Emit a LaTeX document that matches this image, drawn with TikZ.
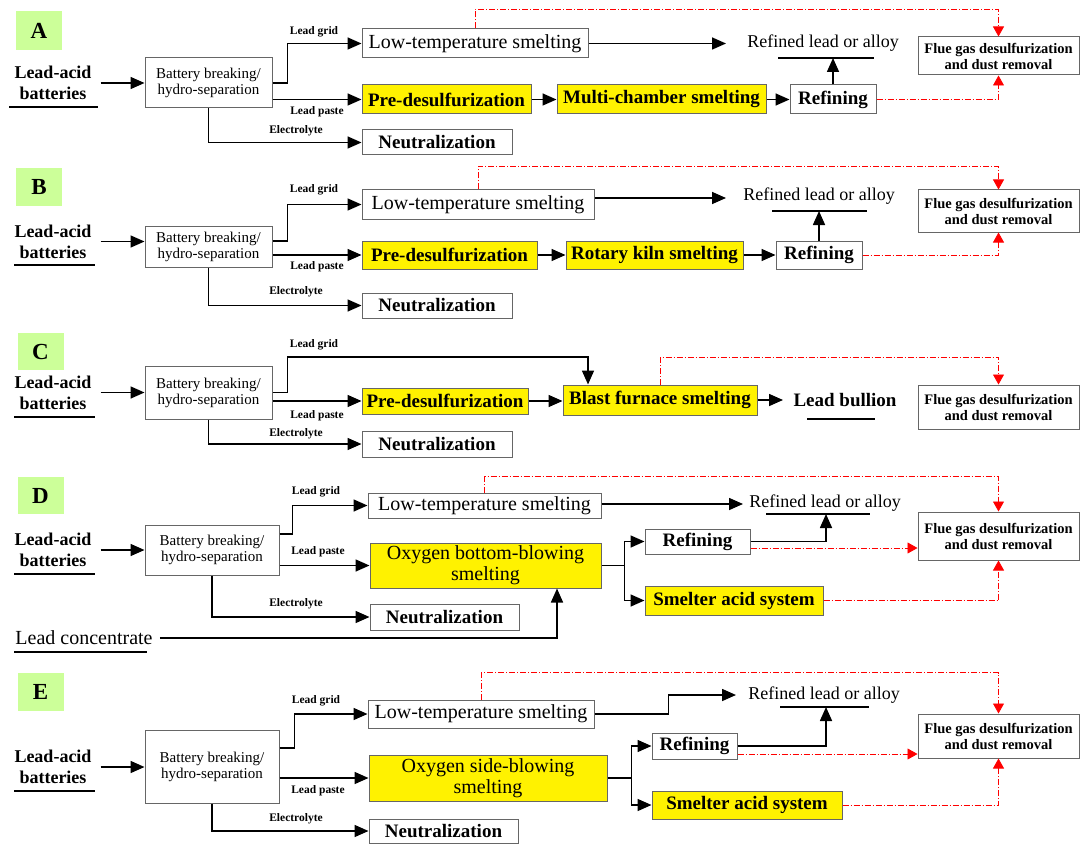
\documentclass[tikz,border=0pt]{standalone}
\usepackage{fontspec}
\setmainfont{Liberation Serif}
\usetikzlibrary{arrows.meta}
\definecolor{tagGreen}{RGB}{204,255,153}
\newcommand{\fmain}{\fontsize{20}{21}\selectfont}
\newcommand{\fbold}{\fontsize{19}{21}\selectfont\bfseries}
\newcommand{\fsrc}{\fontsize{18}{21}\selectfont\bfseries}
\newcommand{\fprod}{\fontsize{18}{21}\selectfont}
\newcommand{\fnote}{\fontsize{15}{16}\selectfont}
\newcommand{\fsmall}{\fontsize{11.5}{12}\selectfont}
\newcommand{\ftag}{\fontsize{23}{24}\selectfont}
\tikzset{
  wh/.style 2 args={minimum width=#1pt, minimum height=#2pt},
  box/.style={draw=black!60, line width=1pt, fill=white, inner sep=0pt, align=center, font=\fmain},
  ybox/.style={box, fill=yellow, font=\fbold},
  bbox/.style={box, font=\fbold},
  bat/.style={box, font=\fnote},
  flue/.style={box, font=\fontsize{14.5}{16}\selectfont\bfseries},
  tag/.style={fill=tagGreen, inner sep=0pt, font=\ftag\bfseries},
  src/.style={inner sep=0pt, align=center, font=\fsrc},
  txt/.style={inner sep=0pt, font=\fprod},
  lbl/.style={inner sep=0pt, font=\fsmall\bfseries},
  uline/.style={line width=1.6pt},
  line/.style={line width=1.6pt},
  arr/.style={line width=1.6pt, -{Triangle[length=14pt,width=12pt]}},
  gas/.style={red, line width=0.8pt, dash pattern=on 6pt off 2pt on 1pt off 2pt,
    -{Triangle[length=10pt,width=11pt]}}
}
\begin{document}
\begin{tikzpicture}[x=1pt,y=-1pt]
\useasboundingbox (0,0) rectangle (1081,845);

% Panel A
\node[tag, wh={46}{39}] (tagA) at (39,30.5) {A};
\node[src] (srcA) at (53,83) {Lead-acid\\batteries};
\draw[uline] (9,107) -- (98,107);
\node[bat, wh={127}{50}] (batA) at (208.5,83) {Battery breaking/\\hydro-separation};
\node[box, wh={226}{29}] (lowA) at (475,43.5) {Low-temperature smelting};
\node[ybox, wh={169}{29}] (preA) at (446.5,99.5) {Pre-desulfurization};
\node[ybox, wh={209}{29}] (multA) at (661.5,99.5) {Multi-chamber smelting};
\node[bbox, wh={86}{29}] (refA) at (833,99.5) {Refining};
\node[bbox, wh={150}{25}] (neuA) at (437,142.5) {Neutralization};
\node[txt] (prodA) at (823,43) {Refined lead or alloy};
\draw[uline] (778,58) -- (874,58);
\coordinate (outA) at (833,58);
\coordinate (endA) at (726,43.5);
\node[flue, wh={161}{38}] (flueA) at (998.5,56) {Flue gas desulfurization\\and dust removal};
\node[lbl] (gridA) at (314,32) {Lead grid};
\node[lbl] (pasteA) at (317,112) {Lead paste};
\node[lbl] (elecA) at (296,131) {Electrolyte};
\draw[arr] ([xshift=9pt]srcA.east) -- (batA.west);
\draw[arr] (batA.east) -- ++(15,0) |- (lowA.west);
\draw[arr] (batA.east |- preA.west) -- (preA.west);
\draw[arr] (batA.south) |- (neuA.west);
\draw[arr] (preA) -- (multA);
\draw[arr] (multA) -- (refA);
\draw[arr] (refA) -- (outA);
\draw[arr] (lowA.east) -- (endA);
\draw[gas] (lowA.north) -- ++(0,-19) -| (flueA.north);
\draw[gas] (refA.east) -| (flueA.south);

% Panel B
\node[tag, wh={46}{38}] (tagB) at (39,187) {B};
\node[src] (srcB) at (53,241.5) {Lead-acid\\batteries};
\draw[uline] (14,265) -- (95,265);
\node[bat, wh={127}{41}] (batB) at (208.5,246.5) {Battery breaking/\\hydro-separation};
\node[box, wh={232}{29}] (lowB) at (478,204.5) {Low-temperature smelting};
\node[ybox, wh={175}{28}] (preB) at (449.5,255) {Pre-desulfurization};
\node[ybox, wh={177}{28}] (rotB) at (654.5,255) {Rotary kiln smelting};
\node[bbox, wh={86}{28}] (refB) at (819,255) {Refining};
\node[bbox, wh={150}{25}] (neuB) at (437,305.5) {Neutralization};
\node[txt] (prodB) at (819,196) {Refined lead or alloy};
\draw[uline] (772,211) -- (867,211);
\coordinate (outB) at (819,211);
\coordinate (endB) at (726,198);
\node[flue, wh={161}{42}] (flueB) at (998.5,211) {Flue gas desulfurization\\and dust removal};
\node[lbl] (gridB) at (314,190) {Lead grid};
\node[lbl] (pasteB) at (317,267) {Lead paste};
\node[lbl] (elecB) at (296,292) {Electrolyte};
\draw[arr] ([xshift=9pt]srcB.east) -- (srcB.east -| batB.west);
\draw[arr] ([yshift=5.5pt]batB.east) -- ++(15,0) |- (lowB.west);
\draw[arr] (batB.east |- preB.west) -- (preB.west);
\draw[arr] (batB.south) |- (neuB.west);
\draw[arr] (preB) -- (rotB);
\draw[arr] (rotB) -- (refB);
\draw[arr] (refB) -- (outB);
\draw[arr] ([yshift=6.5pt]lowB.east) -- (endB);
\draw[gas] (lowB.north) -- ++(0,-23) -| (flueB.north);
\draw[gas] (refB.east) -| (flueB.south);

% Panel C
\node[tag, wh={46}{37}] (tagC) at (40.5,351.5) {C};
\node[src] (srcC) at (53,392.5) {Lead-acid\\batteries};
\draw[uline] (14,417) -- (95,417);
\node[bat, wh={127}{53}] (batC) at (208.5,392.5) {Battery breaking/\\hydro-separation};
\node[ybox, wh={166}{26}] (preC) at (445,401) {Pre-desulfurization};
\node[ybox, wh={194}{30}] (blastC) at (660,400) {Blast furnace smelting};
\node[bbox, wh={150}{26}] (neuC) at (437,444) {Neutralization};
\node[src, font=\fbold] (prodC) at (845,400) {Lead bullion};
\draw[uline] (807,419) -- (875,419);
\coordinate (endC) at (783,400);
\coordinate (topC) at (588,357);
\node[flue, wh={161}{44}] (flueC) at (998.5,407) {Flue gas desulfurization\\and dust removal};
\node[lbl] (gridC) at (314,345) {Lead grid};
\node[lbl] (pasteC) at (317,416) {Lead paste};
\node[lbl] (elecC) at (296,434) {Electrolyte};
\draw[arr] ([xshift=9pt]srcC.east) -- (batC.west);
\draw[arr] (batC.east) -- ++(15,0) |- (topC) -- (topC |- blastC.north);
\draw[arr] (batC.east |- preC.west) -- (preC.west);
\draw[arr] (batC.south) |- (neuC.west);
\draw[arr] (preC.east) -- (preC.east -| blastC.west);
\draw[arr] (blastC.east) -- (endC);
\draw[gas] (blastC.north) -- (blastC.north |- topC) -| (flueC.north);

% Panel D
\node[tag, wh={46}{37}] (tagD) at (40.5,495.5) {D};
\node[src] (srcD) at (53,550) {Lead-acid\\batteries};
\draw[uline] (14,574) -- (95,574);
\node[bat, wh={134}{50}] (batD) at (212,550) {Battery breaking/\\hydro-separation};
\node[box, wh={233}{25}] (lowD) at (484.5,505.5) {Low-temperature smelting};
\node[ybox, wh={231}{45}, font=\fmain] (oxyD) at (485.5,565.5) {Oxygen bottom-blowing\\smelting};
\node[bbox, wh={149}{26}] (neuD) at (444.5,617) {Neutralization};
\node[txt, font=\fmain] (conD) at (84,638) {Lead concentrate};
\draw[uline] (14,652) -- (147,652);
\node[bbox, wh={105}{25}] (refD) at (697.5,541.5) {Refining};
\node[ybox, wh={178}{29}] (smD) at (734,600.5) {Smelter acid system};
\node[txt] (prodD) at (825,503) {Refined lead or alloy};
\draw[uline] (766,514) -- (870,514);
\coordinate (outD) at (826,514);
\coordinate (endD) at (743,504);
\node[flue, wh={161}{48}] (flueD) at (998.5,536) {Flue gas desulfurization\\and dust removal};
\node[lbl] (gridD) at (316,492) {Lead grid};
\node[lbl] (pasteD) at (318,552) {Lead paste};
\node[lbl] (elecD) at (296,604) {Electrolyte};
\draw[arr] ([xshift=9pt]srcD.east) -- (batD.west);
\draw[arr] ([yshift=16pt]batD.east) -- ++(13,0) |- (lowD.west);
\draw[arr] (batD.east |- oxyD.west) -- (oxyD.west);
\draw[arr] (batD.south) |- (neuD.west);
\draw[arr] ([xshift=7pt]conD.east) -| ([xshift=71.5pt]oxyD.south);
\draw[line] (oxyD.east) -- ++(23,0) coordinate (brD);
\draw[arr] (brD) |- (refD.west);
\draw[arr] (brD) |- (smD.west);
\draw[arr] (refD.east) -| (outD);
\draw[arr] ([yshift=1.5pt]lowD.east) -- (endD);
\draw[gas] (lowD.north) -- ++(0,-16) -| (flueD.north);
\draw[gas] ([yshift=-6.5pt]refD.east) -- ([yshift=-12pt]flueD.west);
\draw[gas] (smD.east) -| (flueD.south);

% Panel E
\node[tag, wh={46}{38}] (tagE) at (40.5,692) {E};
\node[src] (srcE) at (53,767) {Lead-acid\\batteries};
\draw[uline] (14,791) -- (95,791);
\node[bat, wh={134}{73}] (batE) at (212,766.5) {Battery breaking/\\hydro-separation};
\node[box, wh={226}{28}] (lowE) at (481,714) {Low-temperature smelting};
\node[ybox, wh={238}{46}, font=\fmain] (oxyE) at (488,778) {Oxygen side-blowing\\smelting};
\node[bbox, wh={149}{24}] (neuE) at (443.5,831) {Neutralization};
\node[bbox, wh={85}{26}] (refE) at (694.5,746) {Refining};
\node[ybox, wh={190}{28}] (smE) at (747,805) {Smelter acid system};
\node[txt] (prodE) at (824,695) {Refined lead or alloy};
\draw[uline] (780,707) -- (869,707);
\coordinate (outE) at (826,707);
\coordinate (endE) at (736,695);
\node[flue, wh={161}{44}] (flueE) at (998.5,736) {Flue gas desulfurization\\and dust removal};
\node[lbl] (gridE) at (316,701) {Lead grid};
\node[lbl] (pasteE) at (318,791) {Lead paste};
\node[lbl] (elecE) at (296,819) {Electrolyte};
\draw[arr] ([xshift=9pt]srcE.east) -- (srcE.east -| batE.west);
\draw[arr] ([yshift=18.5pt]batE.east) -- ++(15,0) |- (lowE.west);
\draw[arr] (batE.east |- oxyE.west) -- (oxyE.west);
\draw[arr] (batE.south) |- (neuE.west);
\draw[line] (oxyE.east) -- ++(24,0) coordinate (brE);
\draw[arr] (brE) |- (refE.west);
\draw[arr] (brE) |- (smE.west);
\draw[arr] (refE.east) -| (outE);
\draw[arr] (lowE.east) -- ++(74,0) |- (endE);
\draw[gas] (lowE.north) -- ++(0,-27) -| (flueE.north);
\draw[gas] ([yshift=-8pt]refE.east) -- ([yshift=-18pt]flueE.west);
\draw[gas] (smE.east) -| (flueE.south);

\end{tikzpicture}
\end{document}
